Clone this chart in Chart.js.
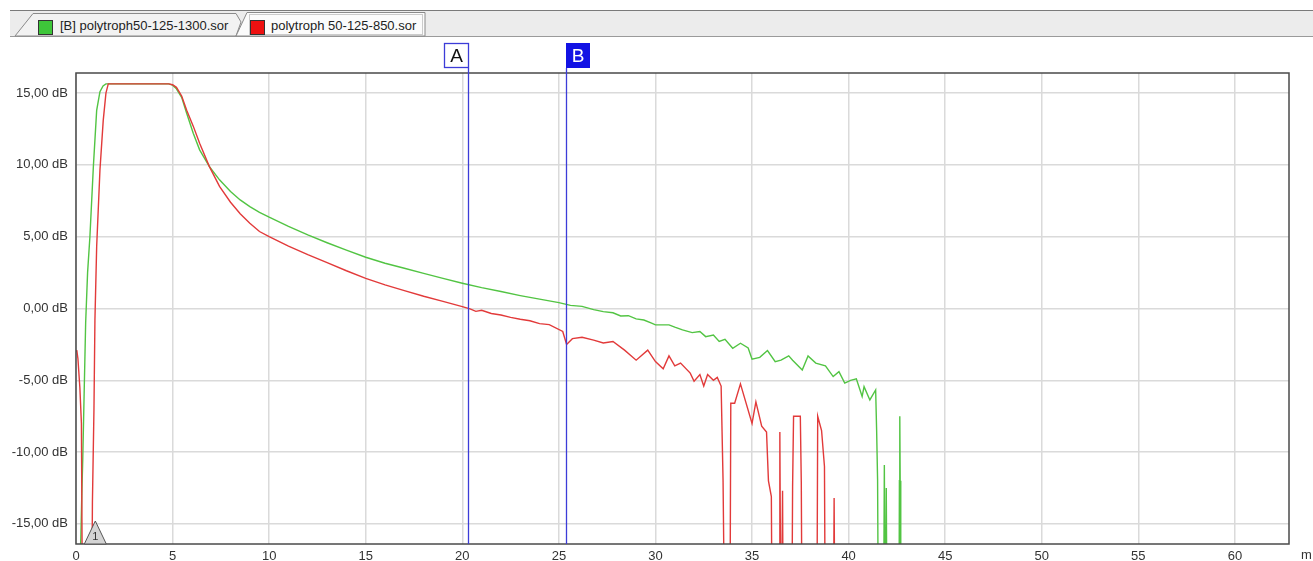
<!DOCTYPE html>
<html>
<head>
<meta charset="utf-8">
<script src="https://cdn.jsdelivr.net/npm/chart.js@4/dist/chart.umd.min.js"></script>
<style>
  body { margin: 0; background: #fff; font-family: "Liberation Sans", Arial, sans-serif; }
  #wrap { position: relative; width: 1313px; height: 561px; overflow: hidden; }
  #tabs { position: absolute; left: 0; top: 0; }
  .tab { position: absolute; top: 18px; font-size: 13px; color: #222; white-space: nowrap; }
  .sq { position: absolute; width: 13px; height: 13px; border: 1px solid #333; }
  canvas { position: absolute; left: 0; top: 0; }
</style>
</head>
<body>
<div id="wrap">
  <canvas id="otdr" width="1313" height="561"></canvas>
  <svg id="tabs" width="1313" height="40">
    <rect x="10" y="10" width="1303" height="26" fill="#ececec"/>
    <line x1="10" y1="10.5" x2="1313" y2="10.5" stroke="#7a7a7a"/>
    <line x1="10" y1="36.5" x2="1313" y2="36.5" stroke="#9a9a9a"/>
    <polygon points="15,36 33,13.5 236,13.5 241,22 236,36" fill="#f2f2f2" stroke="#8a8a8a"/>
    <polygon points="236,36 247,12.5 425,12.5 425,36" fill="#fbfbfb" stroke="#8a8a8a"/>
    <rect x="249.5" y="14.5" width="173" height="20" fill="none" stroke="#9a9a9a" stroke-dasharray="1,1"/>
  </svg>
  <div class="sq" style="left:38px;top:20px;background:#3ec63a"></div>
  <div class="tab" id="tab0" style="left:60px"></div>
  <div class="sq" style="left:250px;top:20px;background:#ee1111"></div>
  <div class="tab" id="tab1" style="left:271px"></div>
</div>
<script>
// Traces OTDR : distance (m) / niveau (dB)
const seriesNames = ["[B] polytroph50-125-1300.sor", "polytroph 50-125-850.sor"];

const greenX = [0.0, 0.25, 0.3, 0.35, 0.42, 0.5, 0.6, 0.72, 0.9, 1.07, 1.24, 1.4, 1.55,
  4.8, 5.0, 5.2, 5.47, 5.73, 6.07, 6.4, 6.9, 7.43, 8.0, 8.5, 9.0, 9.5, 10.0, 11.0, 12.0,
  13.0, 14.0, 15.0, 16.0, 17.0, 18.0, 19.0, 20.0, 21.0, 22.0, 23.0, 24.0, 25.0, 25.6, 26.2,
  26.8, 27.3, 27.8, 28.2, 28.6, 29.0, 29.4, 29.8,
  30.0, 30.7, 31.0, 31.4, 31.9, 32.3, 32.6, 33.0, 33.3, 33.6, 34.0, 34.4, 34.8,
  35.0, 35.4, 35.8, 36.2, 36.5, 36.9, 37.1, 37.6, 37.9, 38.3, 38.8, 39.2, 39.5, 39.8,
  40.1, 40.4, 40.7, 40.8, 41.1, 41.4, 41.45, 41.5, 41.55, 41.8, 41.85, 41.9, 41.95,
  42.0, 42.6, 42.63, 42.65, 42.67, 42.7];
const greenY = [-25, -16, -13, -10.5, -6, -1, 2.5, 5, 9.9, 13.8, 15.1, 15.5, 15.64,
  15.64, 15.55, 15.3, 14.7, 13.6, 12.2, 11.05, 9.9, 8.96, 8.15, 7.56, 7.1, 6.7, 6.36, 5.72, 5.12,
  4.58, 4.06, 3.57, 3.15, 2.8, 2.45, 2.1, 1.76, 1.45, 1.18, 0.9, 0.65, 0.41, 0.22, 0.15,
  -0.08, -0.22, -0.3, -0.52, -0.5, -0.72, -0.8, -1.02,
  -1.14, -1.14, -1.3, -1.49, -1.68, -1.6, -1.96, -1.85, -2.3, -2.15, -2.77, -2.42, -2.75,
  -3.53, -3.4, -2.93, -3.7, -3.6, -3.3, -3.6, -4.28, -3.3, -3.8, -4.0, -4.74, -4.4, -5.2,
  -5.0, -4.9, -6.13, -5.44, -6.37, -5.67, -8.45, -11.9, -25, -25, -10.9, -25, -12.5,
  -25, -25, -12, -7.5, -12, -25];

const redX = [0.0, 0.05, 0.1, 0.2, 0.28, 0.35, 0.8, 0.85, 0.93, 0.98, 1.07, 1.24, 1.41,
  1.55, 1.67, 4.8, 5.0, 5.2, 5.47, 5.73, 6.07, 6.4, 6.9, 7.43, 8.0, 8.5, 9.0, 9.5, 10.0,
  11.0, 12.0, 13.0, 14.0, 15.0, 16.0, 17.0, 18.0, 19.0, 20.0, 20.4, 20.7, 21.0, 21.5,
  22.0, 22.5, 23.0, 23.5, 24.0, 24.5, 25.2, 25.4, 25.7, 26.2, 26.8, 27.3, 27.8, 28.4,
  29.0, 29.6, 30.0, 30.4, 30.7, 31.0, 31.3, 31.8, 32.0, 32.3, 32.5, 32.7, 33.0, 33.2,
  33.4, 33.5, 33.6, 33.85, 33.9, 34.1, 34.4, 35.0, 35.2, 35.5, 35.75, 35.85, 36.0, 36.05,
  36.4, 36.44, 36.5, 36.55, 36.58, 36.62, 37.05, 37.1, 37.15, 37.5, 37.55, 37.6, 38.35,
  38.4, 38.6, 38.75, 38.8, 39.2, 39.25, 39.3];
const redY = [-2.9, -3.0, -3.5, -5.5, -8, -25, -25, -13.5, -7, -0.8, 4.3, 9.65, 13.1,
  15.0, 15.64, 15.64, 15.58, 15.4, 14.8, 13.8, 12.7, 11.5, 9.9, 8.5, 7.4, 6.6, 5.94, 5.36, 5.0,
  4.35, 3.75, 3.2, 2.63, 2.1, 1.65, 1.25, 0.85, 0.5, 0.13, -0.02, -0.2, -0.12, -0.35,
  -0.45, -0.62, -0.75, -0.85, -1.05, -1.12, -1.6, -2.5, -2.1, -2.0, -2.2, -2.4, -2.3, -2.9,
  -3.6, -2.9, -3.7, -4.2, -3.3, -4.0, -3.8, -4.5, -5.07, -4.6, -5.4, -4.6, -5.0, -4.8,
  -5.4, -12, -25, -25, -6.6, -6.6, -5.25, -8.0, -6.5, -8.2, -8.6, -12, -13.1, -25,
  -25, -8.6, -25, -25, -12.7, -25, -25, -12.4, -7.5, -7.5, -12.1, -25, -25,
  -7.5, -8.5, -11, -25, -25, -13.2, -25];

const xTicks = [0, 5, 10, 15, 20, 25, 30, 35, 40, 45, 50, 55, 60];
const yTicks = [-15, -10, -5, 0, 5, 10, 15];
const markerNames = ["A", "B"];
const markerPos = [20.3, 25.36];
const eventPos = 1.0;

document.getElementById("tab0").textContent = seriesNames[0];
document.getElementById("tab1").textContent = seriesNames[1];

const toPoints = (xs, ys) => xs.map((x, i) => ({ x, y: ys[i] }));

// curseurs A/B, cadre, évènement 1 et unité
const overlay = {
  id: "overlay",
  afterDatasetsDraw(chart) {
    const { ctx, chartArea: a, scales: { x } } = chart;
    ctx.save();
    ctx.strokeStyle = "#4a4a4a";
    ctx.lineWidth = 1.5;
    ctx.strokeRect(a.left, a.top, a.right - a.left, a.bottom - a.top);

    markerPos.forEach((v, i) => {
      const px = Math.round(x.getPixelForValue(v)) + 0.5;
      ctx.strokeStyle = "#3c3cd8";
      ctx.lineWidth = 1.3;
      ctx.beginPath();
      ctx.moveTo(px, 68);
      ctx.lineTo(px, a.bottom);
      ctx.stroke();
      const bx = i === 0 ? px - 24 : px - 0.5;
      if (i === 0) {
        ctx.fillStyle = "#fff";
        ctx.fillRect(bx, 43, 24, 25);
        ctx.strokeRect(bx, 43.5, 24, 24);
        ctx.fillStyle = "#111";
      } else {
        ctx.fillStyle = "#1212e4";
        ctx.fillRect(bx, 43, 24, 25);
        ctx.fillStyle = "#fff";
      }
      ctx.font = '19px "Liberation Sans"';
      ctx.textAlign = "center";
      ctx.textBaseline = "middle";
      ctx.fillText(markerNames[i], bx + 12, 57);
    });

    const ex = x.getPixelForValue(eventPos);
    ctx.beginPath();
    ctx.moveTo(ex, a.bottom - 23);
    ctx.lineTo(ex - 11, a.bottom);
    ctx.lineTo(ex + 11, a.bottom);
    ctx.closePath();
    ctx.fillStyle = "#d4d4d4";
    ctx.fill();
    ctx.strokeStyle = "#555";
    ctx.lineWidth = 1;
    ctx.stroke();
    ctx.fillStyle = "#333";
    ctx.font = '11px "Liberation Sans"';
    ctx.textAlign = "center";
    ctx.textBaseline = "middle";
    ctx.fillText("1", ex, a.bottom - 7);

    ctx.font = '13px "Liberation Sans"';
    ctx.textAlign = "left";
    ctx.fillText("m", 1301, 555);
    ctx.restore();
  },
};

new Chart(document.getElementById("otdr"), {
  type: "line",
  data: {
    datasets: [
      {
        label: seriesNames[1],
        data: toPoints(redX, redY),
        borderColor: "#e23a3a",
        borderWidth: 1.4,
        pointRadius: 0,
        tension: 0,
      },
      {
        label: seriesNames[0],
        data: toPoints(greenX, greenY),
        borderColor: "#52c443",
        borderWidth: 1.4,
        pointRadius: 0,
        tension: 0,
      },
    ],
  },
  options: {
    responsive: false,
    animation: false,
    layout: { padding: { top: 73, right: 24, left: 0, bottom: 0 } },
    plugins: { legend: { display: false }, tooltip: { enabled: false } },
    scales: {
      x: {
        type: "linear",
        min: 0,
        max: 62.8,
        afterBuildTicks: (axis) => { axis.ticks = xTicks.map((v) => ({ value: v })); },
        afterFit: (axis) => { axis.height = 17; },
        grid: { color: "#dadada", lineWidth: 1.5, drawTicks: false },
        border: { display: false },
        ticks: {
          padding: 5,
          color: "#333",
          font: { family: "Liberation Sans", size: 13 },
          maxRotation: 0,
          callback: (v) => String(v),
        },
      },
      y: {
        min: -16.4,
        max: 16.4,
        afterBuildTicks: (axis) => { axis.ticks = yTicks.map((v) => ({ value: v })); },
        afterFit: (axis) => { axis.width = 76; },
        grid: { color: "#dadada", lineWidth: 1.5, drawTicks: false },
        border: { display: false },
        ticks: {
          padding: 8,
          color: "#333",
          font: { family: "Liberation Sans", size: 13 },
          callback: (v) => v.toFixed(2).replace(".", ",") + " dB",
        },
      },
    },
  },
  plugins: [overlay],
});
</script>
</body>
</html>
